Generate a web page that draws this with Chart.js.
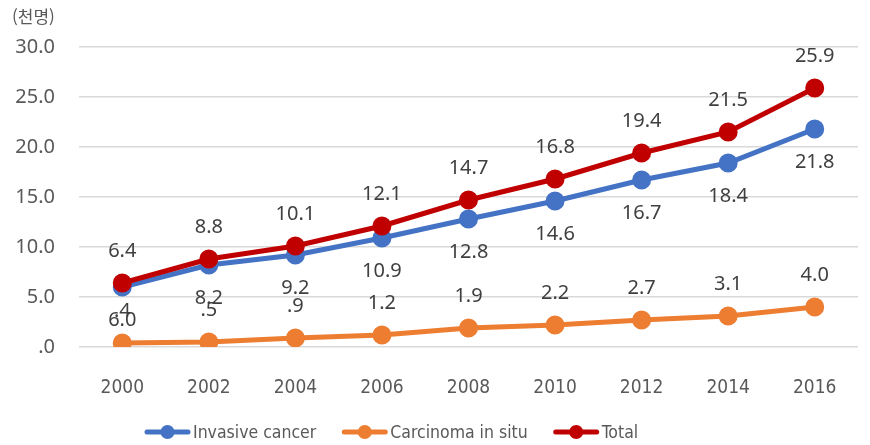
<!DOCTYPE html>
<html lang="ko">
<head>
  <meta charset="UTF-8">
  <title>Invasive cancer / Carcinoma in situ</title>
  <script src="https://cdn.jsdelivr.net/npm/chart.js"></script>
  <style>
    html, body { margin: 0; padding: 0; background: #fff; }
    #wrap { width: 870px; height: 445px; position: relative; }
  </style>
</head>
<body>
<div id="wrap"><canvas id="chart"></canvas></div>

<script>
  const years = ["2000", "2002", "2004", "2006", "2008", "2010", "2012", "2014", "2016"];
  const invasive = [6.0, 8.2, 9.2, 10.9, 12.8, 14.6, 16.7, 18.4, 21.8];
  const inSitu = [0.4, 0.5, 0.9, 1.2, 1.9, 2.2, 2.7, 3.1, 4.0];
  const total = [6.4, 8.8, 10.1, 12.1, 14.7, 16.8, 19.4, 21.5, 25.9];
  const yTickLabels = [".0", "5.0", "10.0", "15.0", "20.0", "25.0", "30.0"];
  const unitLabel = "(천명)";

  const NUM_FONT = '"Noto Sans", "Liberation Sans", sans-serif';
  const NARROW_FONT = '"Liberation Sans Narrow", "DejaVu Sans Condensed", sans-serif';
  const TEXT_COLOR = "#595959";

  const fmt = v => v.toFixed(1).replace(/^0\./, ".");

  // value labels, offset above/below each point
  const valueLabels = {
    id: "valueLabels",
    afterDatasetsDraw(chart) {
      const ctx = chart.ctx;
      ctx.save();
      ctx.font = "20px " + NUM_FONT;
      ctx.fillStyle = "#404040";
      ctx.textAlign = "center";
      ctx.textBaseline = "middle";
      chart.data.datasets.forEach((ds, i) => {
        const meta = chart.getDatasetMeta(i);
        meta.data.forEach((pt, j) => {
          ctx.fillText(fmt(ds.data[j]), pt.x, pt.y + ds.labelOffset);
        });
      });
      ctx.restore();
    }
  };

  // unit title and legend with line+marker symbols
  const extras = {
    id: "extras",
    afterDraw(chart) {
      const ctx = chart.ctx;
      ctx.save();
      ctx.font = '17px "Noto Sans CJK KR", "Noto Sans", sans-serif';
      ctx.fillStyle = TEXT_COLOR;
      ctx.textBaseline = "middle";
      ctx.textAlign = "left";
      ctx.fillText(unitLabel, 12, 17);

      ctx.font = "17.5px " + NARROW_FONT;
      const symW = 45, gapT = 3, gapItem = 26;
      let x = 145;
      const y = 432;
      chart.data.datasets.forEach(ds => {
        ctx.strokeStyle = ds.borderColor;
        ctx.lineWidth = 5;
        ctx.lineCap = "round";
        ctx.beginPath();
        ctx.moveTo(x + 2, y);
        ctx.lineTo(x + symW - 2, y);
        ctx.stroke();
        ctx.fillStyle = ds.borderColor;
        ctx.beginPath();
        ctx.arc(x + symW / 2, y, 7, 0, Math.PI * 2);
        ctx.fill();
        ctx.fillStyle = TEXT_COLOR;
        ctx.fillText(ds.label, x + symW + gapT, y + 1);
        x += symW + gapT + ctx.measureText(ds.label).width + gapItem;
      });
      ctx.restore();
    }
  };

  const lineStyle = color => ({
    borderColor: color,
    backgroundColor: color,
    pointBackgroundColor: color,
    pointBorderColor: color,
    borderWidth: 5,
    pointRadius: 7,
    pointHoverRadius: 7,
    tension: 0,
    fill: false
  });

  new Chart(document.getElementById("chart"), {
    type: "line",
    data: {
      labels: years,
      datasets: [
        Object.assign({ label: "Invasive cancer", data: invasive, order: 1, labelOffset: 33 }, lineStyle("#4472C4")),
        Object.assign({ label: "Carcinoma in situ", data: inSitu, order: 2, labelOffset: -32 }, lineStyle("#ED7D31")),
        Object.assign({ label: "Total", data: total, order: 0, labelOffset: -32 }, lineStyle("#C00000"))
      ]
    },
    options: {
      responsive: true,
      maintainAspectRatio: false,
      animation: false,
      layout: { padding: { top: 47, left: 0, right: 0, bottom: 48 } },
      plugins: {
        legend: { display: false },
        tooltip: { enabled: false },
        title: { display: false }
      },
      scales: {
        x: {
          offset: true,
          grid: { display: false },
          border: { display: false },
          ticks: {
            color: TEXT_COLOR,
            font: { family: NARROW_FONT, size: 19 },
            padding: 22,
            maxRotation: 0
          },
          afterFit(scale) { scale.height = 50; }
        },
        y: {
          min: 0,
          max: 30,
          grid: { color: "#d9d9d9", lineWidth: 1.5, drawTicks: false },
          border: { display: false },
          ticks: {
            stepSize: 5,
            color: TEXT_COLOR,
            font: { family: NUM_FONT, size: 20 },
            padding: 24,
            callback: (v, i) => yTickLabels[i]
          },
          afterFit(scale) { scale.width = 79; }
        }
      }
    },
    plugins: [valueLabels, extras]
  });
</script>
</body>
</html>
